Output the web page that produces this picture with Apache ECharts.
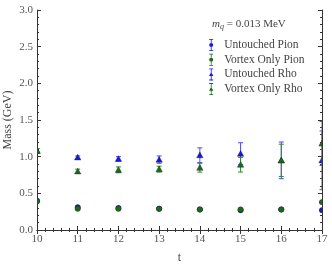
<!DOCTYPE html>
<html><head><meta charset="utf-8">
<script src="https://cdn.jsdelivr.net/npm/echarts@6/dist/echarts.min.js"></script>
<style>html,body{margin:0;padding:0;background:#fff}#c{width:332px;height:269px}</style>
</head><body><div id="c"></div>
<script>
const tValues = [10, 11, 12, 13, 14, 15, 16, 17];
const untouchedPion = [0.40, 0.31, 0.30, 0.29, 0.28, 0.27, 0.28, 0.27];
const untouchedPionErr = [0.01, 0.01, 0.01, 0.01, 0.01, 0.01, 0.01, 0.01];
const vortexPion = [0.39, 0.29, 0.29, 0.29, 0.28, 0.28, 0.28, 0.38];
const vortexPionErr = [0.01, 0.01, 0.01, 0.01, 0.01, 0.01, 0.01, 0.01];
const untouchedRho = [1.08, 0.99, 0.97, 0.96, 1.02, 1.04, 0.95, 0.95];
const untouchedRhoErr = [0.03, 0.02, 0.03, 0.05, 0.10, 0.15, 0.25, 0.40];
const vortexRho = [1.08, 0.80, 0.82, 0.83, 0.85, 0.89, 0.95, 1.18];
const vortexRhoErr = [0.03, 0.03, 0.04, 0.04, 0.06, 0.10, 0.22, 0.30];
const xTicks = [10, 11, 12, 13, 14, 15, 16, 17];
const yTicks = ['0.0', '0.5', '1.0', '1.5', '2.0', '2.5', '3.0'];

const FONT = '"Liberation Serif", "DejaVu Serif", serif';
const BLUE = '#1515e8', BLUE_BAR = '#4a4aff';
const GREEN = '#1a6b1a', GREEN_BAR = '#2e8b2e';

function rows(vals, errs) { return tValues.map((t, i) => [t, vals[i], errs[i]]); }

function makeRender(shape, color, barColor) {
  return function (params, api) {
    const x = api.value(0), y = api.value(1), e = api.value(2);
    const p = api.coord([x, y]);
    const hi = api.coord([x, y + e]);
    const lo = api.coord([x, y - e]);
    const cs = params.coordSys;
    const cw = 2.5;
    const children = [
      { type: 'line', shape: { x1: p[0], y1: lo[1], x2: p[0], y2: hi[1] }, style: { stroke: barColor, lineWidth: 1 } },
      { type: 'line', shape: { x1: p[0] - cw, y1: hi[1], x2: p[0] + cw, y2: hi[1] }, style: { stroke: barColor, lineWidth: 1 } },
      { type: 'line', shape: { x1: p[0] - cw, y1: lo[1], x2: p[0] + cw, y2: lo[1] }, style: { stroke: barColor, lineWidth: 1 } }
    ];
    if (shape === 'circle') {
      children.push({ type: 'circle', shape: { cx: p[0], cy: p[1], r: 2.7 }, style: { fill: color, stroke: '#222', lineWidth: 0.4 } });
    } else {
      const s = 3.2;
      children.push({ type: 'polygon', shape: { points: [[p[0], p[1] - s], [p[0] + s, p[1] + s * 0.8], [p[0] - s, p[1] + s * 0.8]] }, style: { fill: color, stroke: '#222', lineWidth: 0.4 } });
    }
    return {
      type: 'group', children,
      clipPath: { type: 'rect', shape: { x: cs.x, y: cs.y, width: cs.width, height: cs.height } }
    };
  };
}

const circleIcon = 'path://M1 0H5V0.8H3.4V4.3H2.6V0.8H1Z M2.6 7.7H3.4V11.2H5V12H1V11.2H2.6Z M1 6A2 2 0 1 0 5 6A2 2 0 1 0 1 6Z';
const triIcon = 'path://M1 0H5V0.8H3.4V4.3H2.6V0.8H1Z M2.6 7.7H3.4V11.2H5V12H1V11.2H2.6Z M3 3.8L5.2 7.6H0.8Z';

function series(name, shape, color, barColor, vals, errs) {
  return {
    type: 'custom', name, clip: true,
    xAxisIndex: 0, yAxisIndex: 0,
    itemStyle: { color: color },
    renderItem: makeRender(shape, color, barColor),
    encode: { x: 0, y: 1 },
    data: rows(vals, errs)
  };
}

const axisCommon = {
  axisLine: { show: true, lineStyle: { color: '#333', width: 1 } },
  axisTick: { show: true, inside: true, length: 4, lineStyle: { color: '#333', width: 1 } },
  minorTick: { show: true, splitNumber: 5, length: 2, lineStyle: { color: '#333', width: 1 } },
  splitLine: { show: false }
};

const chart = echarts.init(document.getElementById('c'), null, { renderer: 'canvas' });
chart.setOption({
  animation: false,
  backgroundColor: '#fff',
  grid: { left: 37, right: 10, top: 10, bottom: 39, containLabel: false, outerBoundsMode: 'none' },
  xAxis: [
    Object.assign({}, axisCommon, {
      type: 'value', min: 10, max: 17, interval: 1, position: 'bottom',
      name: 't', nameLocation: 'middle', nameGap: 22, nameMoveOverlap: false,
      nameTextStyle: { fontFamily: FONT, fontSize: 12, color: '#444' },
      axisLabel: { fontFamily: FONT, fontSize: 11, color: '#555', margin: 4, formatter: v => String(xTicks[Math.round(v) - 10]) }
    }),
    Object.assign({}, axisCommon, {
      type: 'value', min: 10, max: 17, interval: 1, position: 'top', axisLabel: { show: false }
    })
  ],
  yAxis: [
    Object.assign({}, axisCommon, {
      type: 'value', min: 0, max: 3, interval: 0.5, position: 'left',
      name: 'Mass (GeV)', nameLocation: 'middle', nameGap: 23, nameRotate: 90, nameMoveOverlap: false,
      nameTextStyle: { fontFamily: FONT, fontSize: 12, color: '#444' },
      axisLabel: { fontFamily: FONT, fontSize: 11, color: '#555', margin: 4, formatter: v => yTicks[Math.round(v * 2)] }
    }),
    Object.assign({}, axisCommon, {
      type: 'value', min: 0, max: 3, interval: 0.5, position: 'right', axisLabel: { show: false }
    })
  ],
  legend: {
    orient: 'vertical', left: 204, top: 34, itemWidth: 6, itemHeight: 12, itemGap: 2.7,
    textStyle: { fontFamily: FONT, fontSize: 11.5, color: '#444', padding: [0, 0, 0, 5] },
    data: [
      { name: 'Untouched Pion', icon: circleIcon },
      { name: 'Vortex Only Pion', icon: circleIcon },
      { name: 'Untouched Rho', icon: triIcon },
      { name: 'Vortex Only Rho', icon: triIcon }
    ]
  },
  graphic: [{
    type: 'text', left: 212, top: 19,
    style: {
      text: '{i|m}{s|q}{n| = 0.013 MeV}',
      rich: {
        i: { fontFamily: FONT, fontStyle: 'italic', fontSize: 11, fill: '#444' },
        s: { fontFamily: FONT, fontStyle: 'italic', fontSize: 8, fill: '#444', verticalAlign: 'bottom', padding: [5, 0, 0, 0] },
        n: { fontFamily: FONT, fontSize: 11, fill: '#444' }
      }
    }
  }],
  series: [
    series('Untouched Pion', 'circle', BLUE, BLUE_BAR, untouchedPion, untouchedPionErr),
    series('Vortex Only Pion', 'circle', GREEN, GREEN_BAR, vortexPion, vortexPionErr),
    series('Untouched Rho', 'triangle', BLUE, BLUE_BAR, untouchedRho, untouchedRhoErr),
    series('Vortex Only Rho', 'triangle', GREEN, GREEN_BAR, vortexRho, vortexRhoErr)
  ]
});
</script></body></html>
